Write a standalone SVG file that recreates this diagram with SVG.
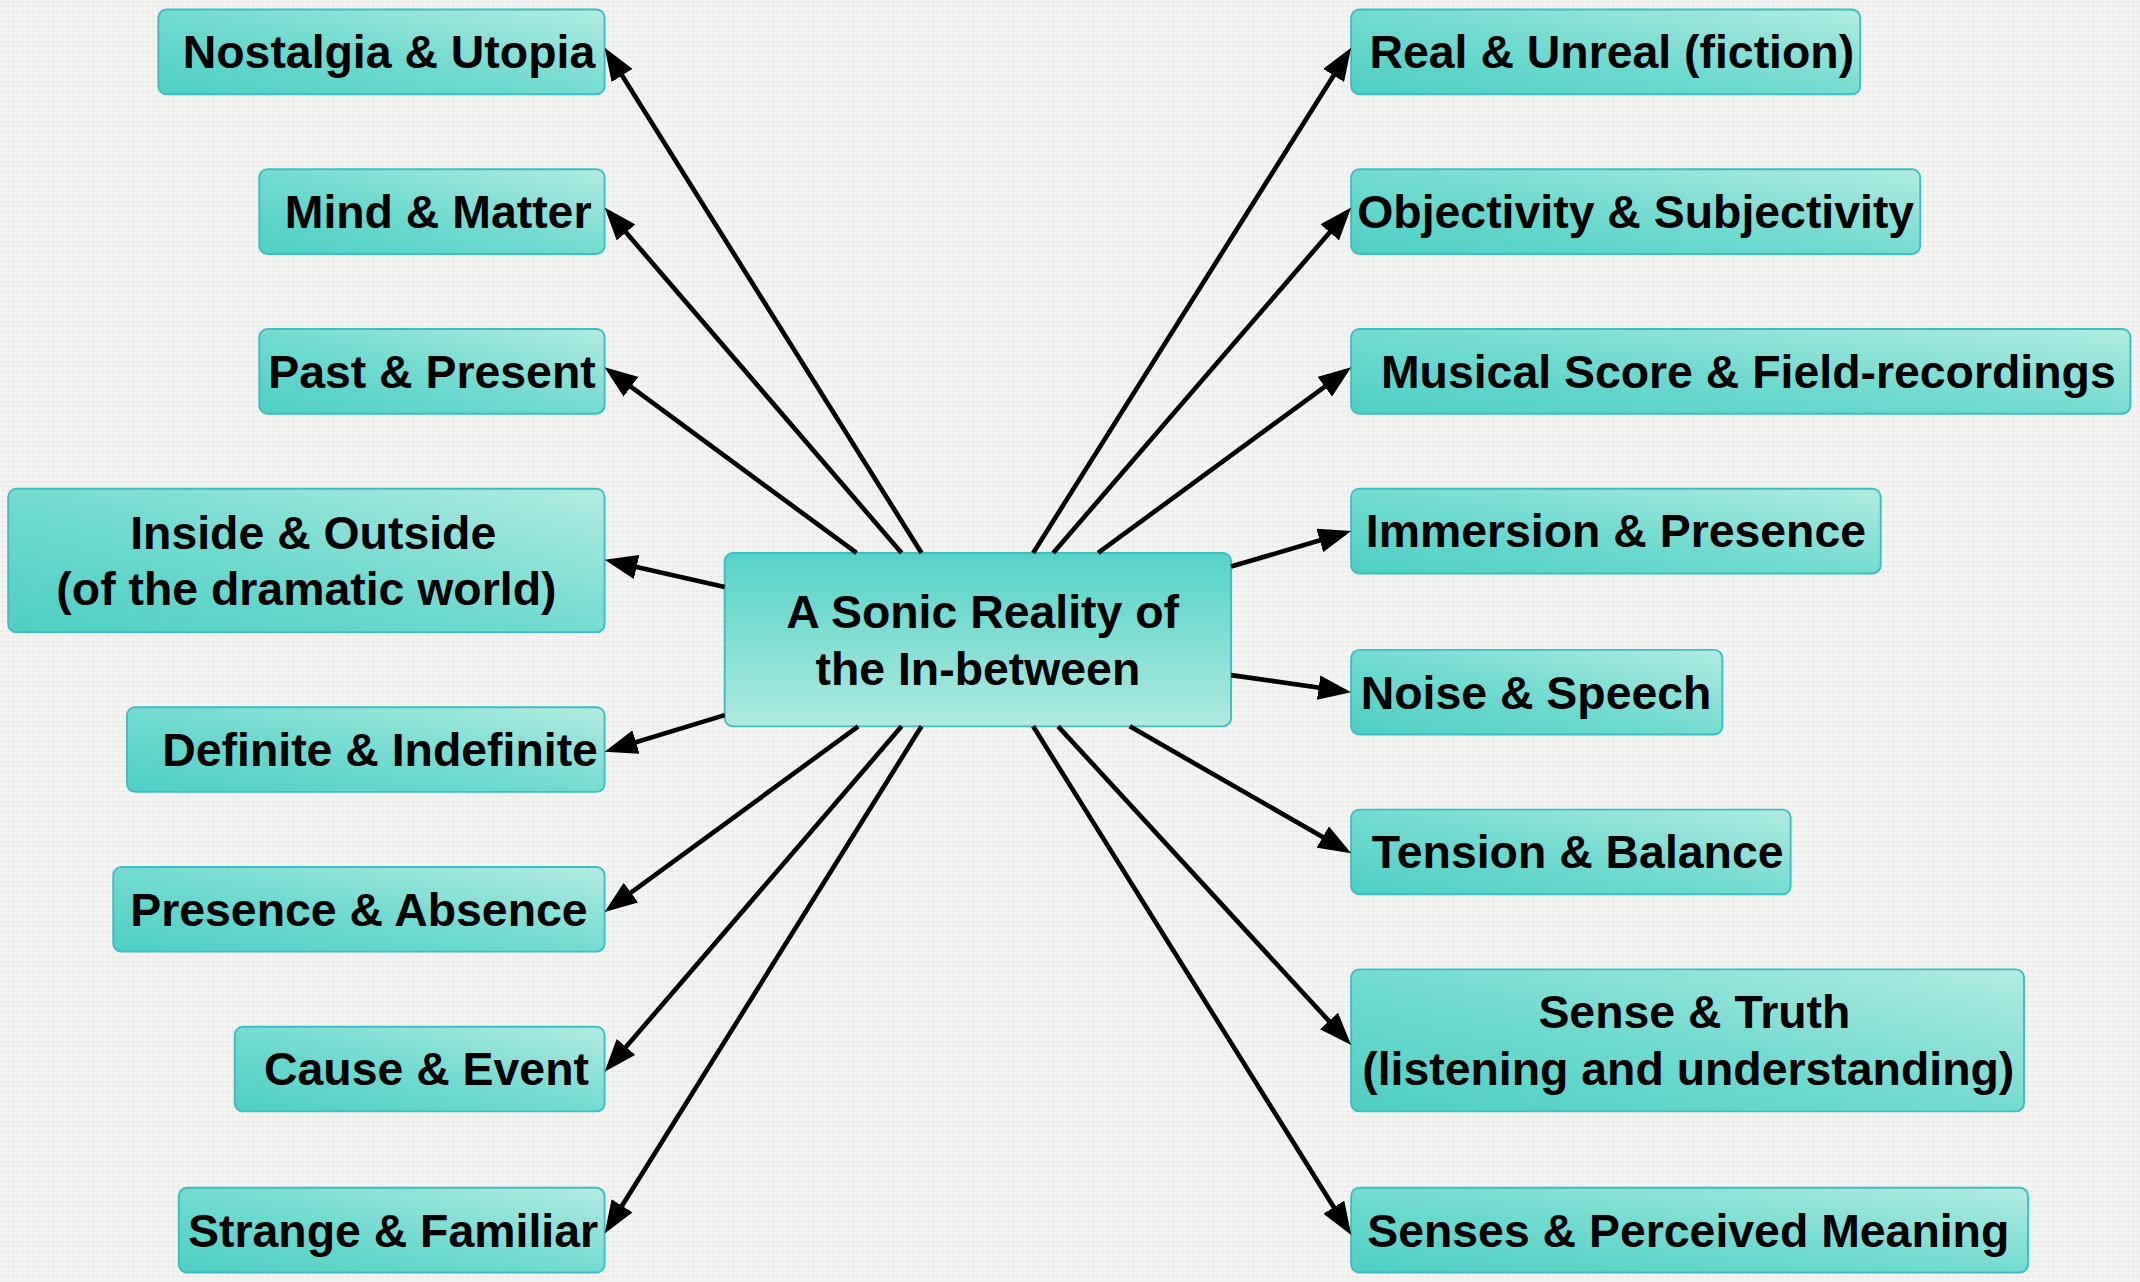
<svg xmlns="http://www.w3.org/2000/svg" width="2140" height="1282" viewBox="0 0 2140 1282">
<defs>
<linearGradient id="gNode" x1="0" y1="1" x2="1" y2="0">
<stop offset="0" stop-color="#4dcfc5"/>
<stop offset="0.45" stop-color="#6fdad0"/>
<stop offset="1" stop-color="#b2ebe1"/>
</linearGradient>
<linearGradient id="gCenter" x1="0" y1="0" x2="0" y2="1">
<stop offset="0" stop-color="#55d3c9"/>
<stop offset="1" stop-color="#afeadf"/>
</linearGradient>
<pattern id="linen" width="5" height="5" patternUnits="userSpaceOnUse">
<rect width="5" height="5" fill="#f4f4f2"/>
<path d="M0,1.5 H5 M3,0 V5" stroke="#e7e7e5" stroke-width="0.7"/>
</pattern>
<marker id="arrow" markerUnits="userSpaceOnUse" markerWidth="24" markerHeight="18" refX="19" refY="9" orient="auto">
<path d="M0,0 L24,9 L0,18 z" fill="#000"/>
</marker>
<style>
.box{fill:url(#gNode);stroke:#3dbdc4;stroke-width:1.4}
.cbox{fill:url(#gCenter);stroke:#3dbdc4;stroke-width:1.4}
.t{font-family:"Liberation Sans",Arial,Helvetica,sans-serif;font-weight:bold;font-size:34px;fill:#000;text-anchor:middle}
.edge{fill:none;stroke:#000;stroke-width:3.4;marker-end:url(#arrow)}
</style>
</defs>
<rect width="2140" height="1282" fill="url(#linen)"/>
<g transform="scale(1.3648 1.3653)">
<g id="center">
<rect class="cbox" x="531" y="405" width="371" height="127" rx="6"/>
<text class="t" x="720" y="460">A Sonic Reality of</text>
<text class="t" x="716.5" y="502">the In-between</text>
</g>
<g id="nostalgia-utopia"><rect class="box" x="116" y="7" width="327" height="62" rx="6"/><text class="t" x="285" y="50">Nostalgia &amp; Utopia</text></g>
<g id="mind-matter"><rect class="box" x="190" y="124" width="253" height="62" rx="6"/><text class="t" x="321" y="167">Mind &amp; Matter</text></g>
<g id="past-present"><rect class="box" x="190" y="241" width="253" height="62" rx="6"/><text class="t" x="316.5" y="284">Past &amp; Present</text></g>
<g id="inside-outside"><rect class="box" x="6" y="358" width="437" height="105" rx="6"/><text class="t" x="229.5" y="402">Inside &amp; Outside</text><text class="t" x="224.5" y="443">(of the dramatic world)</text></g>
<g id="definite-indefinite"><rect class="box" x="93" y="518" width="350" height="62" rx="6"/><text class="t" x="278.5" y="561">Definite &amp; Indefinite</text></g>
<g id="presence-absence"><rect class="box" x="83" y="635" width="360" height="62" rx="6"/><text class="t" x="263" y="678">Presence &amp; Absence</text></g>
<g id="cause-event"><rect class="box" x="172" y="752" width="271" height="62" rx="6"/><text class="t" x="312.5" y="795">Cause &amp; Event</text></g>
<g id="strange-familiar"><rect class="box" x="131" y="870" width="312" height="62" rx="6"/><text class="t" x="288" y="913">Strange &amp; Familiar</text></g>
<g id="real-unreal"><rect class="box" x="990" y="7" width="373" height="62" rx="6"/><text class="t" x="1181" y="50">Real &amp; Unreal (fiction)</text></g>
<g id="objectivity-subjectivity"><rect class="box" x="990" y="124" width="417" height="62" rx="6"/><text class="t" x="1198.5" y="167">Objectivity &amp; Subjectivity</text></g>
<g id="score-field"><rect class="box" x="990" y="241" width="571" height="62" rx="6"/><text class="t" x="1281" y="284">Musical Score &amp; Field-recordings</text></g>
<g id="immersion-presence"><rect class="box" x="990" y="358" width="388" height="62" rx="6"/><text class="t" x="1184" y="401">Immersion &amp; Presence</text></g>
<g id="noise-speech"><rect class="box" x="990" y="476" width="272" height="62" rx="6"/><text class="t" x="1125.5" y="519">Noise &amp; Speech</text></g>
<g id="tension-balance"><rect class="box" x="990" y="593" width="322" height="62" rx="6"/><text class="t" x="1156" y="636">Tension &amp; Balance</text></g>
<g id="sense-truth"><rect class="box" x="990" y="710" width="493" height="104" rx="6"/><text class="t" x="1241.5" y="753">Sense &amp; Truth</text><text class="t" x="1237" y="795">(listening and understanding)</text></g>
<g id="senses-meaning"><rect class="box" x="990" y="870" width="496" height="62" rx="6"/><text class="t" x="1237" y="913">Senses &amp; Perceived Meaning</text></g>
<g id="connectors">
<path class="edge" d="M675.2,405 L445.7,39.2"/>
<path class="edge" d="M660.6,405 L446.3,155.8"/>
<path class="edge" d="M627.6,405 L447.0,272.0"/>
<path class="edge" d="M531,430 L447.9,411.1"/>
<path class="edge" d="M531,523.8 L447.8,549.1"/>
<path class="edge" d="M628.8,532 L447.0,665.0"/>
<path class="edge" d="M660.6,532 L446.3,781.2"/>
<path class="edge" d="M675.2,532 L445.7,899.3"/>
<path class="edge" d="M757,405 L987.3,39.2"/>
<path class="edge" d="M771.7,405 L986.7,155.8"/>
<path class="edge" d="M804.6,405 L986.0,272.0"/>
<path class="edge" d="M902,415 L985.2,390.4"/>
<path class="edge" d="M902,494.5 L985.0,506.3"/>
<path class="edge" d="M827.8,532 L985.7,622.5"/>
<path class="edge" d="M775.3,532 L986.6,761.8"/>
<path class="edge" d="M757,532 L987.4,900.3"/>
</g>
</g>
</svg>
